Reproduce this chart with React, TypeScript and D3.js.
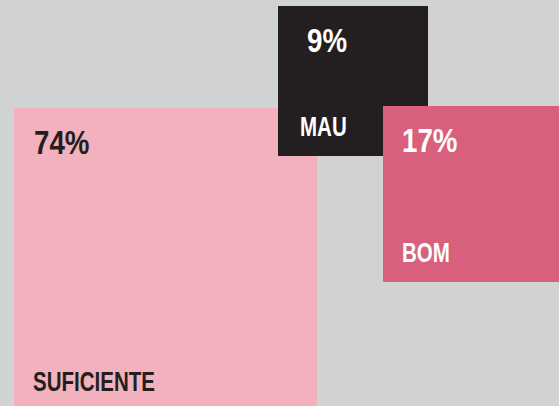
import { useEffect, useRef } from 'react';
import * as d3 from 'd3';

// data
const categories = ['SUFICIENTE', 'MAU', 'BOM'];
const shares = [74, 9, 17];

// colours / placement per square (drawing order = array order)
const fills = ['#f2b1bc', '#231f20', '#d8607c'];
const textFills = ['#231f20', '#ffffff', '#ffffff'];
const anchors = [
  { x: 14, y: 108 },
  { x: 278, y: 6 },
  { x: 383, y: 106 },
];
const pctPad = [20, 29, 19];
const labelPad = [19, 22, 19];

const W = 559, H = 406;

export default function App() {
  const svgRef = useRef<SVGSVGElement>(null);

  useEffect(() => {
    if (!svgRef.current) return;
    const svg = d3.select(svgRef.current);
    svg.selectAll('*').remove();

    // side length of each square from its share
    const side = d3.scaleLinear().domain([9, 17, 74]).range([150, 176, 303]);

    svg.append('rect').attr('width', W).attr('height', H).attr('fill', '#d1d2d4');

    const font = "'Liberation Sans', Arial, sans-serif";

    shares.forEach((v, i) => {
      const s = side(v);
      const { x, y } = anchors[i];
      const g = svg.append('g').attr('transform', `translate(${x},${y})`);
      g.append('rect').attr('width', s).attr('height', s).attr('fill', fills[i]);
      // condensed look: squeeze the text horizontally
      g.append('text')
        .attr('transform', `translate(${pctPad[i]},46) scale(0.84,1)`)
        .attr('font-family', font).attr('font-weight', 700).attr('font-size', 33)
        .attr('fill', textFills[i])
        .text(`${v}%`);
      g.append('text')
        .attr('transform', `translate(${labelPad[i]},${Math.min(s - 20, H - y - 13)}) scale(0.76,1)`)
        .attr('font-family', font).attr('font-weight', 700).attr('font-size', 27)
        .attr('fill', textFills[i])
        .text(categories[i]);
    });
  }, []);

  return (
    <div style={{ width: W, height: H, overflow: 'hidden' }}>
      <style>{'body{margin:0}'}</style>
      <svg ref={svgRef} width={W} height={H} style={{ display: 'block' }} />
    </div>
  );
}
